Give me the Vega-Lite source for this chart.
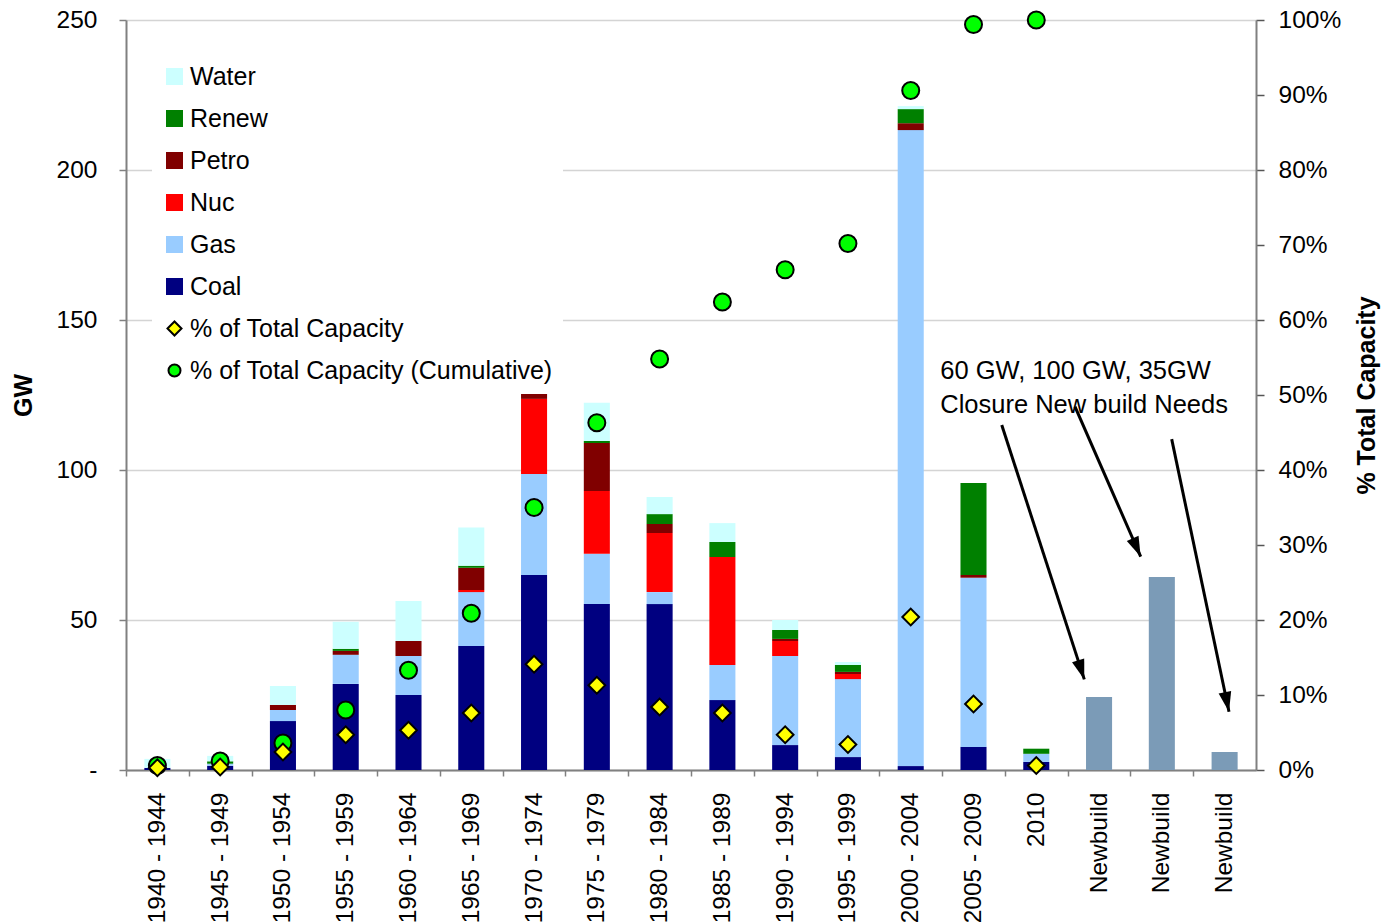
{
  "$schema": "https://vega.github.io/schema/vega-lite/v6.json",
  "width": 1130,
  "height": 750,
  "autosize": {"type": "none"},
  "padding": {"left": 126, "top": 20, "right": 132, "bottom": 154},
  "background": "white",
  "config": {
    "view": {"stroke": null},
    "font": "Liberation Sans",
    "axis": {"labelFont": "Liberation Sans", "titleFont": "Liberation Sans", "labelColor": "black", "titleColor": "black"}
  },
  "datasets": {
    "capacity": [
      {"period": "1940 - 1944", "type": "Coal", "gw": 0.7},
      {"period": "1940 - 1944", "type": "Water", "gw": 3.0},
      {"period": "1945 - 1949", "type": "Coal", "gw": 1.4},
      {"period": "1945 - 1949", "type": "Gas", "gw": 0.7},
      {"period": "1945 - 1949", "type": "Renew", "gw": 0.8},
      {"period": "1945 - 1949", "type": "Water", "gw": 1.8},
      {"period": "1950 - 1954", "type": "Coal", "gw": 16.3},
      {"period": "1950 - 1954", "type": "Gas", "gw": 3.7},
      {"period": "1950 - 1954", "type": "Petro", "gw": 1.7},
      {"period": "1950 - 1954", "type": "Water", "gw": 6.3},
      {"period": "1955 - 1959", "type": "Coal", "gw": 28.7},
      {"period": "1955 - 1959", "type": "Gas", "gw": 9.7},
      {"period": "1955 - 1959", "type": "Petro", "gw": 1.3},
      {"period": "1955 - 1959", "type": "Renew", "gw": 0.7},
      {"period": "1955 - 1959", "type": "Water", "gw": 9.0},
      {"period": "1960 - 1964", "type": "Coal", "gw": 25.0},
      {"period": "1960 - 1964", "type": "Gas", "gw": 13.0},
      {"period": "1960 - 1964", "type": "Petro", "gw": 5.0},
      {"period": "1960 - 1964", "type": "Water", "gw": 13.3},
      {"period": "1965 - 1969", "type": "Coal", "gw": 41.3},
      {"period": "1965 - 1969", "type": "Gas", "gw": 18.0},
      {"period": "1965 - 1969", "type": "Nuc", "gw": 0.7},
      {"period": "1965 - 1969", "type": "Petro", "gw": 7.4},
      {"period": "1965 - 1969", "type": "Renew", "gw": 0.7},
      {"period": "1965 - 1969", "type": "Water", "gw": 12.7},
      {"period": "1970 - 1974", "type": "Coal", "gw": 65.0},
      {"period": "1970 - 1974", "type": "Gas", "gw": 33.7},
      {"period": "1970 - 1974", "type": "Nuc", "gw": 25.0},
      {"period": "1970 - 1974", "type": "Petro", "gw": 1.7},
      {"period": "1975 - 1979", "type": "Coal", "gw": 55.3},
      {"period": "1975 - 1979", "type": "Gas", "gw": 16.8},
      {"period": "1975 - 1979", "type": "Nuc", "gw": 20.9},
      {"period": "1975 - 1979", "type": "Petro", "gw": 16.0},
      {"period": "1975 - 1979", "type": "Renew", "gw": 0.7},
      {"period": "1975 - 1979", "type": "Water", "gw": 12.7},
      {"period": "1980 - 1984", "type": "Coal", "gw": 55.3},
      {"period": "1980 - 1984", "type": "Gas", "gw": 4.0},
      {"period": "1980 - 1984", "type": "Nuc", "gw": 19.7},
      {"period": "1980 - 1984", "type": "Petro", "gw": 3.0},
      {"period": "1980 - 1984", "type": "Renew", "gw": 3.3},
      {"period": "1980 - 1984", "type": "Water", "gw": 5.7},
      {"period": "1985 - 1989", "type": "Coal", "gw": 23.3},
      {"period": "1985 - 1989", "type": "Gas", "gw": 11.7},
      {"period": "1985 - 1989", "type": "Nuc", "gw": 36.0},
      {"period": "1985 - 1989", "type": "Renew", "gw": 5.0},
      {"period": "1985 - 1989", "type": "Water", "gw": 6.3},
      {"period": "1990 - 1994", "type": "Coal", "gw": 8.3},
      {"period": "1990 - 1994", "type": "Gas", "gw": 29.7},
      {"period": "1990 - 1994", "type": "Nuc", "gw": 5.0},
      {"period": "1990 - 1994", "type": "Petro", "gw": 0.7},
      {"period": "1990 - 1994", "type": "Renew", "gw": 3.0},
      {"period": "1990 - 1994", "type": "Water", "gw": 3.3},
      {"period": "1995 - 1999", "type": "Coal", "gw": 4.3},
      {"period": "1995 - 1999", "type": "Gas", "gw": 26.0},
      {"period": "1995 - 1999", "type": "Nuc", "gw": 1.7},
      {"period": "1995 - 1999", "type": "Petro", "gw": 0.7},
      {"period": "1995 - 1999", "type": "Renew", "gw": 2.3},
      {"period": "1995 - 1999", "type": "Water", "gw": 1.0},
      {"period": "2000 - 2004", "type": "Coal", "gw": 1.3},
      {"period": "2000 - 2004", "type": "Gas", "gw": 212.0},
      {"period": "2000 - 2004", "type": "Petro", "gw": 2.3},
      {"period": "2000 - 2004", "type": "Renew", "gw": 4.7},
      {"period": "2000 - 2004", "type": "Water", "gw": 1.0},
      {"period": "2005 - 2009", "type": "Coal", "gw": 7.7},
      {"period": "2005 - 2009", "type": "Gas", "gw": 56.4},
      {"period": "2005 - 2009", "type": "Petro", "gw": 0.9},
      {"period": "2005 - 2009", "type": "Renew", "gw": 30.7},
      {"period": "2010", "type": "Coal", "gw": 2.7},
      {"period": "2010", "type": "Gas", "gw": 2.7},
      {"period": "2010", "type": "Renew", "gw": 1.7},
      {"period": "Newbuild 1", "type": "Newbuild", "gw": 24.3},
      {"period": "Newbuild 2", "type": "Newbuild", "gw": 64.3},
      {"period": "Newbuild 3", "type": "Newbuild", "gw": 6.0}
    ],
    "share": [
      {"period": "1940 - 1944", "type": "% of Total Capacity", "pct": 0.003},
      {"period": "1945 - 1949", "type": "% of Total Capacity", "pct": 0.004},
      {"period": "1950 - 1954", "type": "% of Total Capacity", "pct": 0.024},
      {"period": "1955 - 1959", "type": "% of Total Capacity", "pct": 0.047},
      {"period": "1960 - 1964", "type": "% of Total Capacity", "pct": 0.053},
      {"period": "1965 - 1969", "type": "% of Total Capacity", "pct": 0.076},
      {"period": "1970 - 1974", "type": "% of Total Capacity", "pct": 0.141},
      {"period": "1975 - 1979", "type": "% of Total Capacity", "pct": 0.113},
      {"period": "1980 - 1984", "type": "% of Total Capacity", "pct": 0.084},
      {"period": "1985 - 1989", "type": "% of Total Capacity", "pct": 0.076},
      {"period": "1990 - 1994", "type": "% of Total Capacity", "pct": 0.047},
      {"period": "1995 - 1999", "type": "% of Total Capacity", "pct": 0.034},
      {"period": "2000 - 2004", "type": "% of Total Capacity", "pct": 0.204},
      {"period": "2005 - 2009", "type": "% of Total Capacity", "pct": 0.088},
      {"period": "2010", "type": "% of Total Capacity", "pct": 0.006}
    ],
    "cumulative": [
      {"period": "1940 - 1944", "type": "% of Total Capacity (Cumulative)", "pct": 0.006},
      {"period": "1945 - 1949", "type": "% of Total Capacity (Cumulative)", "pct": 0.012},
      {"period": "1950 - 1954", "type": "% of Total Capacity (Cumulative)", "pct": 0.036},
      {"period": "1955 - 1959", "type": "% of Total Capacity (Cumulative)", "pct": 0.080},
      {"period": "1960 - 1964", "type": "% of Total Capacity (Cumulative)", "pct": 0.133},
      {"period": "1965 - 1969", "type": "% of Total Capacity (Cumulative)", "pct": 0.209},
      {"period": "1970 - 1974", "type": "% of Total Capacity (Cumulative)", "pct": 0.350},
      {"period": "1975 - 1979", "type": "% of Total Capacity (Cumulative)", "pct": 0.463},
      {"period": "1980 - 1984", "type": "% of Total Capacity (Cumulative)", "pct": 0.548},
      {"period": "1985 - 1989", "type": "% of Total Capacity (Cumulative)", "pct": 0.624},
      {"period": "1990 - 1994", "type": "% of Total Capacity (Cumulative)", "pct": 0.667},
      {"period": "1995 - 1999", "type": "% of Total Capacity (Cumulative)", "pct": 0.702},
      {"period": "2000 - 2004", "type": "% of Total Capacity (Cumulative)", "pct": 0.906},
      {"period": "2005 - 2009", "type": "% of Total Capacity (Cumulative)", "pct": 0.994},
      {"period": "2010", "type": "% of Total Capacity (Cumulative)", "pct": 1.0}
    ],
    "notes": [
      {"line": "60 GW, 100 GW, 35GW", "pos": 12.97, "gw": 130.3},
      {"line": "Closure New build Needs", "pos": 12.97, "gw": 118.9}
    ],
    "arrows": [
      {"arrow": "closure", "pos": 13.95, "gw": 115.0, "pos2": 15.265, "gw2": 30.2},
      {"arrow": "newbuild", "pos": 15.117, "gw": 121.1, "pos2": 16.163, "gw2": 71.1},
      {"arrow": "needs", "pos": 16.657, "gw": 110.3, "pos2": 17.57, "gw2": 19.4}
    ]
  },
  "resolve": {"scale": {"x": "independent", "y": "independent"}},
  "layer": [
    {
      "data": {"name": "capacity"},
      "transform": [
        {"stack": "gw", "groupby": ["period"], "sort": [{"field": "type", "order": "ascending"}], "as": ["gw_lo", "gw_hi"]}
      ],
      "mark": {"type": "bar"},
      "encoding": {
        "x": {
          "field": "period", "type": "nominal", "sort": null,
          "scale": {"paddingInner": 0.585, "paddingOuter": 0.2925},
          "axis": {
            "orient": "bottom",
            "title": null, "labelAngle": -90, "labelFontSize": 24.5, "labelPadding": 16,
            "labelOverlap": false, "labelLimit": 400,
            "labelExpr": "indexof(datum.value, 'Newbuild') === 0 ? 'Newbuild' : datum.label",
            "tickOffset": -31.39, "labelOffset": 31.39,
            "tickSize": 6, "tickColor": "#808080", "tickWidth": 1.5,
            "domainColor": "#808080", "domainWidth": 2
          }
        },
        "y": {
          "field": "gw_lo", "type": "quantitative",
          "scale": {"domain": [0, 250], "nice": false},
          "axis": {
            "orient": "left",
            "title": "GW", "titleFontSize": 25, "titleFontWeight": "bold", "titlePadding": 20,
            "values": [0, 50, 100, 150, 200, 250],
            "labelExpr": "datum.value === 0 ? '-\u00a0\u00a0\u00a0\u00a0' : datum.label",
            "labelFontSize": 24.5, "labelPadding": 22,
            "tickSize": 7, "tickColor": "#808080", "tickWidth": 1.5,
            "domainColor": "#808080", "domainWidth": 2,
            "grid": true, "gridColor": "#d4d4d4", "gridWidth": 1.5
          }
        },
        "y2": {"field": "gw_hi"},
        "color": {
          "field": "type", "type": "nominal",
          "scale": {
            "domain": ["Water", "Renew", "Petro", "Nuc", "Gas", "Coal", "% of Total Capacity", "% of Total Capacity (Cumulative)", "Newbuild"],
            "range": ["#ccffff", "#008000", "#800000", "#ff0000", "#99ccff", "#000080", "#ffff00", "#00ff00", "#7b9bb7"]
          },
          "legend": {
            "title": null,
            "orient": "none", "legendX": 26, "legendY": 34,
            "values": ["Water", "Renew", "Petro", "Nuc", "Gas", "Coal", "% of Total Capacity", "% of Total Capacity (Cumulative)"],
            "fillColor": "white", "padding": 10,
            "labelFontSize": 25, "labelColor": "black", "labelLimit": 500, "labelOffset": 3,
            "symbolType": "square", "symbolSize": 289, "rowPadding": 16,
            "encoding": {
              "symbols": {
                "shape": {"value": {"expr": "datum.value === '% of Total Capacity' ? 'diamond' : datum.value === '% of Total Capacity (Cumulative)' ? 'circle' : 'square'"}},
                "size": {"value": {"expr": "datum.value === '% of Total Capacity' ? 196 : datum.value === '% of Total Capacity (Cumulative)' ? 144 : 289"}},
                "stroke": {"value": {"expr": "indexof(datum.value, '%') === 0 ? 'black' : 'transparent'"}},
                "strokeWidth": {"value": 2}
              }
            }
          }
        }
      }
    },
    {
      "data": {"name": "cumulative"},
      "mark": {"type": "point", "shape": "circle", "filled": true, "size": 289, "stroke": "black", "strokeWidth": 2, "opacity": 1},
      "encoding": {
        "x": {"field": "period", "type": "nominal", "sort": null,
              "scale": {"domain": ["1940 - 1944", "1945 - 1949", "1950 - 1954", "1955 - 1959", "1960 - 1964", "1965 - 1969", "1970 - 1974", "1975 - 1979", "1980 - 1984", "1985 - 1989", "1990 - 1994", "1995 - 1999", "2000 - 2004", "2005 - 2009", "2010", "Newbuild 1", "Newbuild 2", "Newbuild 3"], "type": "band", "paddingInner": 0.585, "paddingOuter": 0.2925},
              "axis": null},
        "y": {
          "field": "pct", "type": "quantitative",
          "scale": {"domain": [0, 1], "nice": false},
          "axis": {
            "orient": "right", "title": "% Total Capacity", "titleFontSize": 25, "titleFontWeight": "bold",
            "titleAngle": 270, "titlePadding": 39,
            "values": [0, 0.1, 0.2, 0.3, 0.4, 0.5, 0.6, 0.7, 0.8, 0.9, 1.0], "format": ".0%",
            "labelFontSize": 24.5, "labelPadding": 14,
            "tickSize": 8, "tickColor": "#555555", "tickWidth": 1.5,
            "domainColor": "#808080", "domainWidth": 2, "grid": false
          }
        },
        "color": {"field": "type", "type": "nominal"}
      }
    },
    {
      "data": {"name": "share"},
      "mark": {"type": "point", "shape": "diamond", "filled": true, "size": 280, "stroke": "black", "strokeWidth": 2, "opacity": 1},
      "encoding": {
        "x": {"field": "period", "type": "nominal", "sort": null,
              "scale": {"domain": ["1940 - 1944", "1945 - 1949", "1950 - 1954", "1955 - 1959", "1960 - 1964", "1965 - 1969", "1970 - 1974", "1975 - 1979", "1980 - 1984", "1985 - 1989", "1990 - 1994", "1995 - 1999", "2000 - 2004", "2005 - 2009", "2010", "Newbuild 1", "Newbuild 2", "Newbuild 3"], "type": "band", "paddingInner": 0.585, "paddingOuter": 0.2925},
              "axis": null},
        "y": {"field": "pct", "type": "quantitative", "scale": {"domain": [0, 1], "nice": false}, "axis": null},
        "color": {"field": "type", "type": "nominal"}
      }
    },
    {
      "data": {"name": "notes"},
      "mark": {"type": "text", "align": "left", "baseline": "alphabetic", "font": "Liberation Sans", "fontSize": 25.5, "color": "black"},
      "encoding": {
        "x": {"field": "pos", "type": "quantitative", "scale": {"domain": [0, 18], "nice": false, "zero": false}, "axis": null},
        "y": {"field": "gw", "type": "quantitative", "scale": {"domain": [0, 250], "nice": false}, "axis": null},
        "text": {"field": "line"}
      }
    },
    {
      "data": {"name": "arrows"},
      "mark": {"type": "rule", "color": "black", "strokeWidth": 3, "strokeCap": "butt"},
      "encoding": {
        "x": {"field": "pos", "type": "quantitative", "scale": {"domain": [0, 18], "nice": false, "zero": false}, "axis": null},
        "y": {"field": "gw", "type": "quantitative", "scale": {"domain": [0, 250], "nice": false}, "axis": null},
        "x2": {"field": "pos2"},
        "y2": {"field": "gw2"}
      }
    },
    {
      "data": {"name": "arrows"},
      "mark": {"type": "point", "shape": "M0,0L-0.32,-1L0.32,-1Z", "filled": true, "color": "black", "size": 1600, "opacity": 1, "strokeWidth": 0},
      "encoding": {
        "x": {"field": "pos2", "type": "quantitative", "scale": {"domain": [0, 18], "nice": false, "zero": false}, "axis": null},
        "y": {"field": "gw2", "type": "quantitative", "scale": {"domain": [0, 250], "nice": false}, "axis": null},
        "angle": {
          "condition": [
            {"test": "datum.arrow === 'closure'", "value": -18},
            {"test": "datum.arrow === 'newbuild'", "value": -23.6}
          ],
          "value": -11.9
        }
      }
    }
  ]
}
